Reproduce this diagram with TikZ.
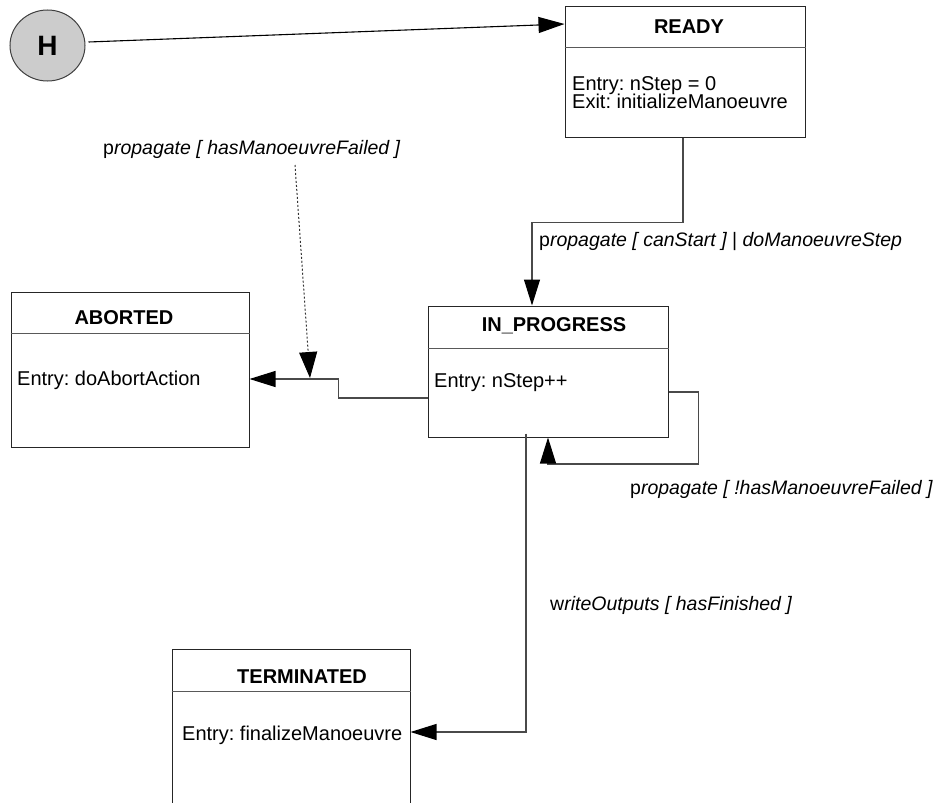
\documentclass[tikz,border=0pt]{standalone}
\usepackage{fontspec}
\setmainfont{Liberation Sans}
\usetikzlibrary{arrows.meta,shapes.geometric,calc}
\definecolor{histfill}{HTML}{CCCCCC}
\definecolor{linegray}{HTML}{4A4A4A}
\frenchspacing
\begin{document}
\begin{tikzpicture}[x=1pt,y=-1pt,
  statebox/.style={draw=black!85,line width=1pt,fill=white,inner sep=0pt},
  divider/.style={draw=black!65,line width=1pt},
  title/.style={font=\bfseries\fontsize{20}{24}\selectfont,inner sep=0pt,anchor=base},
  body/.style={font=\fontsize{20}{24}\selectfont,inner sep=0pt,anchor=base west},
  trans/.style={font=\itshape\fontsize{19.5}{23}\selectfont,inner sep=0pt,anchor=base west},
  tip/.style={-{Triangle[length=26pt,width=16pt,black]}},
  conn/.style={draw=linegray,line width=1.1pt,tip},
  dotconn/.style={draw=black!80,line width=1pt,dash pattern=on 2pt off 2pt,
    -{Triangle[length=26pt,width=18pt,black]}},
  history/.style={ellipse,draw=black!75,line width=1pt,fill=histfill,
    minimum width=75pt,minimum height=71pt,inner sep=0pt,
    font=\bfseries\fontsize{28}{30}\selectfont}
]
\useasboundingbox (0,0) rectangle (940,803);
\clip (0,0) rectangle (940,803);

% history pseudo-state
\node[history] (h) at (47.5,45.5) {H};

% states
\node[statebox,minimum width=240pt,minimum height=131pt] (ready) at (685,71.5) {};
\draw[divider] ([yshift=-42pt]ready.north west) -- ([yshift=-42pt]ready.north east);
\node[title] (readyT) at (689,34) {READY};
\node[body] (readyE) at (572,90) {Entry: nStep = 0};
\node[body] (readyX) at (572,108) {Exit: initializeManoeuvre};

\node[statebox,minimum width=240pt,minimum height=131pt] (inprog) at (548,371.5) {};
\draw[divider] ([yshift=-43pt]inprog.north west) -- ([yshift=-43pt]inprog.north east);
\node[title] (inprogT) at (554,331) {IN\_PROGRESS};
\node[body] (inprogE) at (434,387) {Entry: nStep++};

\node[statebox,minimum width=238pt,minimum height=155pt] (aborted) at (130,369.5) {};
\draw[divider] ([yshift=-42pt]aborted.north west) -- ([yshift=-42pt]aborted.north east);
\node[title] (abortedT) at (124,324) {ABORTED};
\node[body] (abortedE) at (17,385.5) {Entry: doAbortAction};

\node[statebox,minimum width=238pt,minimum height=170pt] (term) at (291,734) {};
\draw[divider] ([yshift=-43pt]term.north west) -- ([yshift=-43pt]term.north east);
\node[title] (termT) at (302,683) {TERMINATED};
\node[body] (termE) at (182,740) {Entry: finalizeManoeuvre};

% transition labels
\node[trans] (lblFail) at (103,154) {{\upshape p}ropagate [ hasManoeuvreFailed ]};
\node[trans] (lblStart) at (539,246) {{\upshape p}ropagate [ canStart ] {\upshape|} doManoeuvreStep};
\node[trans] (lblLoop) at (630,494) {{\upshape p}ropagate [ !hasManoeuvreFailed ]};
\node[trans] (lblFin) at (550,610) {{\upshape w}riteOutputs [ hasFinished ]};

% transitions
\draw[line width=1.1pt,draw=black,tip] ([shift={(3pt,3.5pt)}]h.east) -- ([yshift=47.5pt]ready.west);
\draw[conn] ([xshift=-2pt]ready.south) -- ++(0,85) -| ([xshift=-16pt]inprog.north);
\draw[conn] ([yshift=-20.5pt]inprog.east) -| ++(30,72) -| (inprog.south);
\draw[conn] ([yshift=-26.5pt]inprog.west) -- ++(-89,0) |- ([yshift=-9.5pt]aborted.east);
\draw[conn] ([shift={(-22pt,4pt)}]inprog.south) |- ([yshift=2pt]term.east);

% guard hint pointing at the abort transition
\coordinate (failSrc) at (295,165);
\coordinate (abortJoin) at (310,378);
\draw[dotconn] (failSrc) -- (abortJoin);
\end{tikzpicture}
\end{document}
